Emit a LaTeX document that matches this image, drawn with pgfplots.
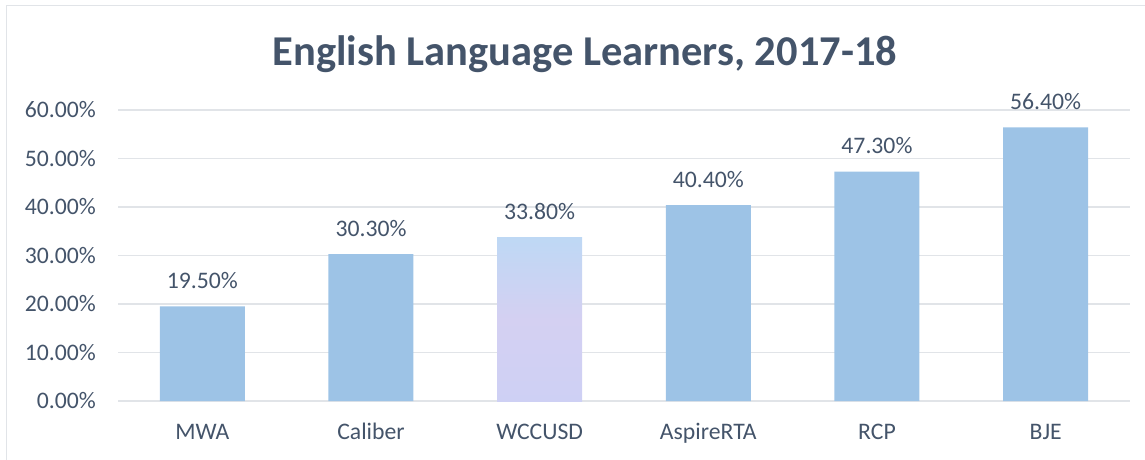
\documentclass[border=0pt]{standalone}
\usepackage{fontspec}
\setmainfont{Carlito}
\usepackage{pgfplots}
\pgfplotsset{compat=1.18}
\definecolor{barblue}{HTML}{9DC3E6}
\definecolor{txt}{HTML}{44546A}
\definecolor{gridc}{RGB}{225,228,232}
\definecolor{lavtop}{RGB}{190,216,244}
\definecolor{lavbot}{RGB}{206,208,244}
\begin{document}
\begin{tikzpicture}[x=1pt,y=1pt]
\useasboundingbox (0,0) rectangle (1145,459);
\draw[color=gridc, line width=1.2pt] (6.5,-2) -- (6.5,453.5) -- (1150,453.5);
\node[anchor=base, text=txt, font=\fontsize{42.5}{48}\selectfont\bfseries] at (585,393) {English Language Learners, 2017-18};
\begin{axis}[
  at={(118pt,58pt)}, anchor=south west,
  scale only axis, width=1012pt, height=291pt,
  ymin=0, ymax=60, xmin=-0.5, xmax=5.5,
  ytick={0,10,...,60},
  xtick={0,...,5},
  xticklabels={MWA,Caliber,WCCUSD,AspireRTA,RCP,BJE},
  axis line style={draw=none},
  major tick style={draw=none},
  ymajorgrids, grid style={color=gridc, line width=1.6pt},
  ticklabel style={font=\fontsize{23.7}{28}\selectfont, text=txt, inner sep=0pt},
  xticklabel style={anchor=base, yshift=-38pt},
  yticklabel style={anchor=east, xshift=-22pt},
  yticklabel={\pgfmathprintnumber[fixed,fixed zerofill,precision=2,assume math mode=true]{\tick}\%},
  point meta=y,
  nodes near coords={\pgfmathprintnumber[fixed,fixed zerofill,precision=2,assume math mode=true]{\pgfplotspointmeta}\%},
  nodes near coords style={anchor=base, yshift=18pt, inner sep=0pt, text=txt, font=\fontsize{23.7}{28}\selectfont},
  clip=false,
]
\addplot[ybar, bar shift=0pt, bar width=85pt, fill=barblue, draw=none]
  coordinates {(0,19.5) (1,30.3) (3,40.4) (4,47.3) (5,56.4)};
\addplot[ybar, bar shift=0pt, bar width=85pt, draw=none,
  top color=lavtop, bottom color=lavbot, middle color={rgb,255:red,212;green,208;blue,242}]
  coordinates {(2,33.8)};
\end{axis}
\end{tikzpicture}
\end{document}
